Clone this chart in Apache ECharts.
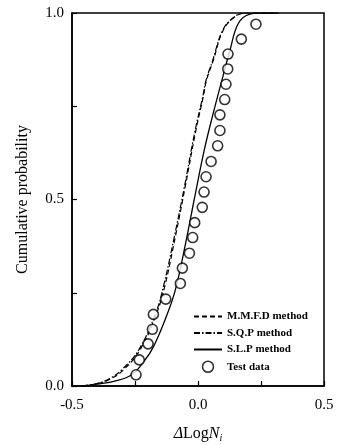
<!DOCTYPE html>
<html>
<head>
<meta charset="utf-8">
<script src="https://cdn.jsdelivr.net/npm/echarts@6/dist/echarts.min.js"></script>
<style>
  html, body { margin: 0; padding: 0; background: #fff; }
  #main { width: 338px; height: 445px; }
</style>
</head>
<body>
<div id="main"></div>
<script>
// values: [ΔLogNi, cumulative probability]
var mmfdData = [
  [-0.46, 0], [-0.40, 0.006], [-0.35, 0.018], [-0.296, 0.043], [-0.23, 0.097],
  [-0.164, 0.195], [-0.131, 0.27], [-0.09, 0.40], [-0.052, 0.53], [-0.01, 0.68],
  [0.021, 0.776], [0.034, 0.82], [0.061, 0.874], [0.10, 0.954], [0.147, 0.99],
  [0.19, 1.0], [0.30, 1.0]
];
var sqpData = [
  [-0.46, 0], [-0.40, 0.007], [-0.35, 0.02], [-0.30, 0.045], [-0.235, 0.097],
  [-0.168, 0.195], [-0.136, 0.27], [-0.094, 0.40], [-0.055, 0.53], [-0.013, 0.68],
  [0.019, 0.776], [0.032, 0.82], [0.059, 0.874], [0.098, 0.954], [0.145, 0.99],
  [0.19, 1.0], [0.30, 1.0]
];
var slpData = [
  [-0.46, 0], [-0.40, 0.005], [-0.33, 0.013], [-0.263, 0.03], [-0.21, 0.07],
  [-0.177, 0.105], [-0.131, 0.177], [-0.091, 0.255], [-0.05, 0.38], [-0.015, 0.5],
  [0.025, 0.633], [0.06, 0.73], [0.087, 0.80], [0.127, 0.90], [0.16, 0.972],
  [0.206, 0.997], [0.25, 1.0], [0.32, 1.0]
];
var testData = [
  [-0.246, 0.03], [-0.233, 0.07], [-0.198, 0.113], [-0.181, 0.152], [-0.177, 0.192],
  [-0.128, 0.233], [-0.070, 0.275], [-0.062, 0.316], [-0.034, 0.356], [-0.021, 0.398],
  [-0.013, 0.438], [0.017, 0.479], [0.024, 0.52], [0.032, 0.561], [0.052, 0.602],
  [0.078, 0.644], [0.087, 0.685], [0.087, 0.727], [0.106, 0.768], [0.111, 0.809],
  [0.118, 0.85], [0.119, 0.89], [0.172, 0.93], [0.230, 0.97]
];
var seriesNames = ['M.M.F.D method', 'S.Q.P method', 'S.L.P method', 'Test data'];
var shownXTicks = [-0.5, 0, 0.5];
var shownYTicks = [0, 0.5, 1];

var chart = echarts.init(document.getElementById('main'));
var serif = 'Liberation Serif';

function tickLabel(list) {
  return function (v) {
    for (var i = 0; i < list.length; i++) {
      if (Math.abs(v - list[i]) < 1e-9) return v.toFixed(1);
    }
    return '';
  };
}

// legend entries: lines only for the curves, hollow circle for the test data
var legendData = seriesNames.map(function (n, i) {
  if (i < 3) return { name: n, itemStyle: { opacity: 0 } };
  return { name: n, icon: 'circle', itemStyle: { color: '#fff', borderColor: '#000', borderWidth: 1.6 } };
});

var option = {
  animation: false,
  backgroundColor: '#fff',
  color: ['#000', '#000', '#000', '#000'],
  grid: {
    left: 72, right: 14, top: 13, bottom: 59,
    outerBoundsMode: 'none',
    show: true, borderColor: '#000', borderWidth: 1.5
  },
  legend: {
    orient: 'vertical',
    left: 188, top: 306,
    itemWidth: 28, itemHeight: 11, itemGap: 5.5,
    textStyle: { fontFamily: serif, fontSize: 11, color: '#000', fontWeight: 'bold' },
    data: legendData
  },
  xAxis: {
    type: 'value', min: -0.5, max: 0.5, interval: 0.25,
    name: '{d|Δ}{n|Log}{d|N}{s|i}',
    nameLocation: 'middle', nameGap: 39,
    nameTextStyle: {
      rich: {
        d: { fontFamily: serif, fontSize: 16, fontStyle: 'italic', color: '#000' },
        n: { fontFamily: serif, fontSize: 16, color: '#000' },
        s: { fontFamily: serif, fontSize: 10, fontStyle: 'italic', color: '#000', verticalAlign: 'bottom', padding: [8, 0, 0, 0] }
      }
    },
    axisLine: { onZero: false, lineStyle: { color: '#000', width: 1.5 } },
    axisTick: { inside: true, length: 5, lineStyle: { color: '#000', width: 1.2 } },
    axisLabel: { formatter: tickLabel(shownXTicks), fontFamily: serif, fontSize: 15, color: '#000', margin: 12 },
    splitLine: { show: false }
  },
  yAxis: {
    type: 'value', min: 0, max: 1, interval: 0.25,
    name: 'Cumulative probability',
    nameLocation: 'middle', nameGap: 41,
    nameTextStyle: { fontFamily: serif, fontSize: 16, color: '#000' },
    axisLine: { onZero: false, lineStyle: { color: '#000', width: 1.5 } },
    axisTick: { inside: true, length: 5, lineStyle: { color: '#000', width: 1.2 } },
    axisLabel: { formatter: tickLabel(shownYTicks), fontFamily: serif, fontSize: 15, color: '#000', margin: 8 },
    splitLine: { show: false }
  },
  series: [
    {
      name: seriesNames[0], type: 'line', data: mmfdData, smooth: 0.4,
      symbol: 'none', itemStyle: { color: '#000' },
      lineStyle: { color: '#000', width: 1.2, type: [5, 3] }, z: 3
    },
    {
      name: seriesNames[1], type: 'line', data: sqpData, smooth: 0.4,
      symbol: 'none', itemStyle: { color: '#000' },
      lineStyle: { color: '#000', width: 1.2, type: [6, 2, 1.5, 2] }, z: 3
    },
    {
      name: seriesNames[2], type: 'line', data: slpData, smooth: 0.4,
      symbol: 'none', itemStyle: { color: '#000' },
      lineStyle: { color: '#000', width: 1.3, type: 'solid' }, z: 3
    },
    {
      name: seriesNames[3], type: 'scatter', data: testData,
      symbol: 'circle', symbolSize: 10,
      itemStyle: { color: '#fff', borderColor: '#000', borderWidth: 1.6 }, z: 4
    }
  ]
};
chart.setOption(option);
</script>
</body>
</html>
